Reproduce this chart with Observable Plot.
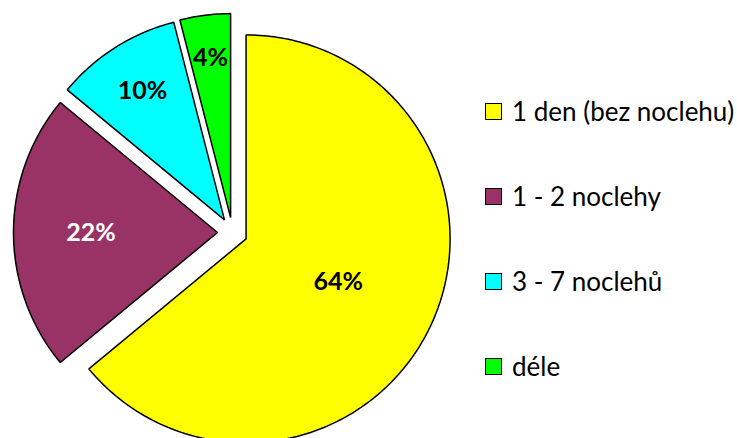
<!DOCTYPE html>
<html>
<head>
<meta charset="utf-8">
<script src="https://cdn.jsdelivr.net/npm/d3@7"></script>
<script src="https://cdn.jsdelivr.net/npm/@observablehq/plot@0.6"></script>
<style>
  html, body { margin: 0; padding: 0; background: #fff; }
  #wrap { position: relative; width: 737px; height: 438px; overflow: hidden; }
  #legend { position: absolute; left: 485px; top: 0; font-family: Lato, "Open Sans", sans-serif; font-size: 26px; color: #000; }
  .row { position: absolute; left: 0; display: flex; align-items: center; white-space: nowrap; }
  .sw { width: 15px; height: 15px; border: 1.5px solid #000; margin-right: 10px; flex: none; }
</style>
</head>
<body>
<div id="wrap"><div id="legend"></div></div>
<script>
// ---- data ----
const names = ["1 den (bez noclehu)", "1 - 2 noclehy", "3 - 7 noclehů", "déle"];
const shares = [64, 22, 10, 4];
const labels = ["64%", "22%", "10%", "4%"];
const colors = ["#FFFF00", "#993366", "#00FFFF", "#00FF00"];
const labelColors = ["#000000", "#FFFFFF", "#000000", "#000000"];

// ---- layout ----
const W = 737, H = 438;
const CX = 232, CY = 232, R = 204, EXPLODE = 15;
const labelFrac = [0.5, 0.62, 0.75, 0.79];

const total = d3.sum(shares);
const slices = [];
const labelRows = [];
let start = 0;
shares.forEach((v, i) => {
  const a0 = start, a1 = start + v / total * 2 * Math.PI;
  start = a1;
  const mid = (a0 + a1) / 2;
  const ox = EXPLODE * Math.sin(mid), oy = EXPLODE * Math.cos(mid);
  slices.push({name: names[i], x: ox, y: oy});
  const n = Math.max(2, Math.ceil((a1 - a0) / (Math.PI / 180)));
  for (let k = 0; k <= n; k++) {
    const a = a0 + (a1 - a0) * k / n;
    slices.push({name: names[i], x: ox + R * Math.sin(a), y: oy + R * Math.cos(a)});
  }
  labelRows.push({
    text: labels[i], color: labelColors[i],
    x: ox + labelFrac[i] * R * Math.sin(mid),
    y: oy + labelFrac[i] * R * Math.cos(mid)
  });
});

const chart = Plot.plot({
  width: W, height: H, margin: 0,
  x: {domain: [-CX, W - CX], axis: null},
  y: {domain: [-(H - CY), CY], axis: null},
  color: {domain: names, range: colors},
  marks: [
    Plot.line(slices, {x: "x", y: "y", z: "name", fill: "name", stroke: "black",
      strokeWidth: 1.5, strokeLinejoin: "miter", curve: "linear-closed"}),
    Plot.text(labelRows, {x: "x", y: "y", text: "text", fill: d => d.color,
      fontSize: 25, fontWeight: "bold", fontFamily: "Lato, 'Open Sans', sans-serif"})
  ]
});
chart.style.position = "absolute";
chart.style.left = "0";
chart.style.top = "0";
document.getElementById("wrap").prepend(chart);

const legend = document.getElementById("legend");
names.forEach((n, i) => {
  const row = document.createElement("div");
  row.className = "row";
  row.style.top = (111 + i * 85 - 17) + "px";
  row.style.height = "34px";
  const sw = document.createElement("div");
  sw.className = "sw";
  sw.style.background = colors[i];
  const t = document.createElement("span");
  t.textContent = n;
  row.appendChild(sw);
  row.appendChild(t);
  legend.appendChild(row);
});
</script>
</body>
</html>
